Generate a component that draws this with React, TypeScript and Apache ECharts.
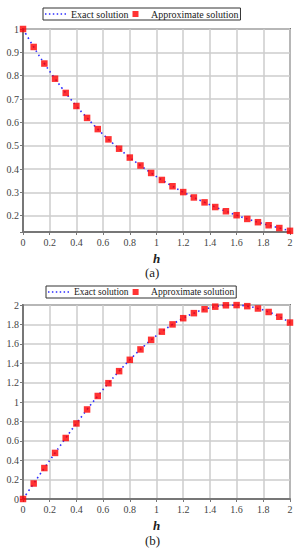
import React, { useEffect, useRef } from "react";
import * as echarts from "echarts";

const hValues = [0, 0.08, 0.16, 0.24, 0.32, 0.4, 0.48, 0.56, 0.64, 0.72, 0.8, 0.88, 0.96, 1.04, 1.12, 1.2, 1.28, 1.36, 1.44, 1.52, 1.6, 1.68, 1.76, 1.84, 1.92, 2.0];
const exactA = [1, 0.923, 0.852, 0.787, 0.726, 0.67, 0.619, 0.571, 0.527, 0.487, 0.449, 0.415, 0.383, 0.353, 0.326, 0.301, 0.278, 0.257, 0.237, 0.219, 0.202, 0.186, 0.172, 0.159, 0.147, 0.135];
const approxA = [1, 0.923, 0.852, 0.787, 0.726, 0.67, 0.619, 0.571, 0.527, 0.487, 0.449, 0.415, 0.383, 0.353, 0.326, 0.301, 0.278, 0.257, 0.237, 0.219, 0.202, 0.186, 0.172, 0.159, 0.147, 0.135];
const exactB = [0, 0.16, 0.319, 0.475, 0.629, 0.779, 0.923, 1.062, 1.194, 1.318, 1.435, 1.542, 1.641, 1.725, 1.8, 1.864, 1.916, 1.956, 1.983, 1.997, 1.999, 1.988, 1.964, 1.928, 1.879, 1.819];
const approxB = [0, 0.16, 0.319, 0.475, 0.629, 0.779, 0.923, 1.062, 1.194, 1.318, 1.435, 1.542, 1.641, 1.725, 1.8, 1.864, 1.916, 1.956, 1.983, 1.997, 1.999, 1.988, 1.964, 1.928, 1.879, 1.819];
const seriesNames = ["Exact solution", "Approximate solution"];
const captions = ["(a)", "(b)"];
const xAxisTitle = "h";

const FONT = "'Liberation Serif', 'DejaVu Serif', serif";
const DOT_ICON = "path://M0 0h1.5v1.5h-1.5z M4 0h1.5v1.5h-1.5z M8 0h1.5v1.5h-1.5z M12 0h1.5v1.5h-1.5z M16 0h1.5v1.5h-1.5z M20 0h1.5v1.5h-1.5z";
const SQUARE_ICON = "path://M0 0h6v6h-6z";

export default function App() {
  const ref = useRef<HTMLDivElement>(null);
  useEffect(() => {
    document.body.style.margin = "0";
    if (!ref.current) return;
    const chart = echarts.init(ref.current, null, { renderer: "svg" });
    const pair = (ys: number[]) => hValues.map((h, i) => [h, ys[i]]);
    const xAxisCommon = (gridIndex: number) => ({
      type: "value",
      gridIndex,
      min: 0,
      max: 2,
      interval: 0.2,
      name: xAxisTitle,
      nameLocation: "middle",
      nameGap: 20,
      nameTextStyle: { fontFamily: FONT, fontSize: 13, fontWeight: "bold", fontStyle: "italic", color: "#222" },
      axisLine: { show: true, lineStyle: { color: "#777", width: 2 } },
      axisTick: { show: true, length: 3, lineStyle: { color: "#777" } },
      axisLabel: { fontFamily: FONT, fontSize: 10, color: "#444", margin: 5, formatter: (v: number) => String(+v.toFixed(1)) },
      splitLine: { show: true, lineStyle: { color: "#ccc", width: 1.5 } },
    });
    const yAxisCommon = (gridIndex: number, min: number, max: number, step: number, splitNumber: number) => ({
      type: "value",
      gridIndex,
      min,
      max,
      splitNumber,
      axisLine: { show: true, lineStyle: { color: "#777", width: 2 } },
      axisTick: { show: true, length: 3, lineStyle: { color: "#777" } },
      axisLabel: {
        fontFamily: FONT,
        fontSize: 10,
        color: "#444",
        margin: 4,
        showMinLabel: true,
        showMaxLabel: true,
        formatter: (v: number) => {
          const r = Math.round(v / step) * step;
          if (Math.abs(r - v) > 1e-6) return "";
          return String(+v.toFixed(1));
        },
      },
      splitLine: { show: true, lineStyle: { color: "#ccc", width: 1.5 } },
    });
    const lineSeries = (idx: number, data: number[]) => ({
      name: seriesNames[0],
      type: "line",
      xAxisIndex: idx,
      yAxisIndex: idx,
      data: pair(data),
      smooth: true,
      showSymbol: false,
      symbol: "none",
      lineStyle: { color: "#2b2bff", width: 1.6, type: [1.6, 3.4] },
      itemStyle: { color: "#2b2bff" },
      z: 3,
    });
    const scatterSeries = (idx: number, data: number[]) => ({
      name: seriesNames[1],
      type: "scatter",
      xAxisIndex: idx,
      yAxisIndex: idx,
      data: pair(data),
      symbol: "rect",
      symbolSize: 6.5,
      itemStyle: { color: "#ff0000" },
      z: 4,
    });
    const legendCommon = (left: number, top: number, fontSize: number) => ({
      left,
      top,
      orient: "horizontal",
      padding: [1, 2, 1, 2],
      borderColor: "#333",
      borderWidth: 1,
      itemGap: 4,
      itemWidth: 21,
      itemHeight: 6,
      symbolKeepAspect: true,
      textStyle: { fontFamily: FONT, fontSize, color: "#222" },
      data: [
        { name: seriesNames[0], icon: DOT_ICON, itemStyle: { color: "#2b2bff", borderWidth: 0 } },
        { name: seriesNames[1], icon: SQUARE_ICON, itemStyle: { color: "#ff0000", borderWidth: 0 } },
      ],
      selectedMode: false,
    });
    chart.setOption({
      animation: false,
      backgroundColor: "#fff",
      grid: [
        { left: 23, top: 29, width: 267, height: 203, show: true, borderColor: "#777", borderWidth: 2 },
        { left: 23, top: 305, width: 267, height: 194, show: true, borderColor: "#777", borderWidth: 2 },
      ],
      legend: [legendCommon(43, 8, 10), legendCommon(46, 286, 9.5)],
      xAxis: [xAxisCommon(0), xAxisCommon(1)],
      yAxis: [yAxisCommon(0, 0.13, 1, 0.1, 9), yAxisCommon(1, 0, 2, 0.2, 10)],
      series: [
        lineSeries(0, exactA),
        scatterSeries(0, approxA),
        lineSeries(1, exactB),
        scatterSeries(1, approxB),
      ],
      graphic: [
        { type: "text", left: 145, top: 266, style: { text: captions[0], fontFamily: FONT, fontSize: 13, fill: "#222" } },
        { type: "text", left: 145, top: 534, style: { text: captions[1], fontFamily: FONT, fontSize: 13, fill: "#222" } },
      ],
    });
    return () => chart.dispose();
  }, []);
  return <div ref={ref} style={{ width: 301, height: 550 }} />;
}
